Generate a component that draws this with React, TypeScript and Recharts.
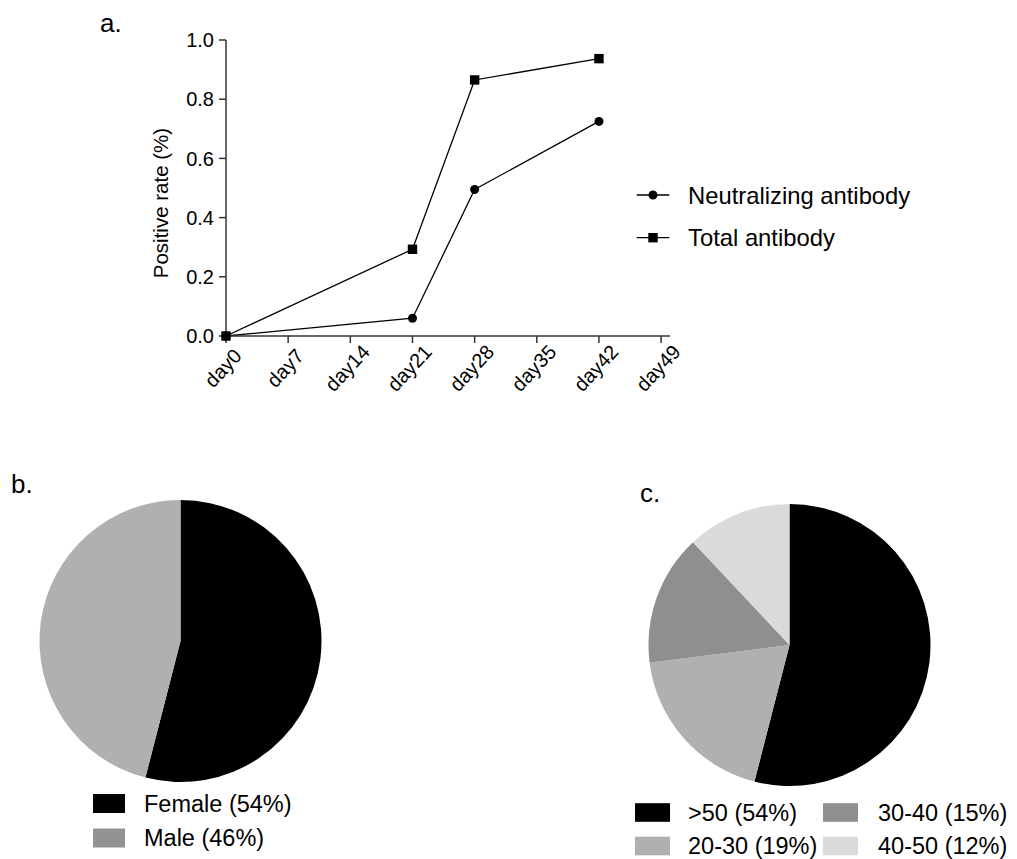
import React from 'react';
import { LineChart, Line, XAxis, YAxis, Legend, PieChart, Pie, Cell } from 'recharts';

const FONT = '"Liberation Sans", Arial, Helvetica, sans-serif';

// Panel a: positive rate over time
const days = [0, 21, 28, 42];
const neutralizing = [0, 0.06, 0.495, 0.725];
const totalAb = [0, 0.293, 0.865, 0.937];
const xTicks = [0, 7, 14, 21, 28, 35, 42, 49];
const yTicks = [0, 0.2, 0.4, 0.6, 0.8, 1.0];
const seriesNames = ['Neutralizing antibody', 'Total antibody'];

// Panel b: gender
const genderLabels = ['Female (54%)', 'Male (46%)'];
const genderValues = [54, 46];
const genderSliceColors = ['#000000', '#b0b0b0'];
const genderSwatchColors = ['#000000', '#939393'];

// Panel c: age groups
const ageLabels = ['>50 (54%)', '20-30 (19%)', '30-40 (15%)', '40-50 (12%)'];
const ageValues = [54, 19, 15, 12];
const ageColors = ['#000000', '#b0b0b0', '#8f8f8f', '#dadada'];

const lineData = days.map((d, i) => ({ day: d, neutralizing: neutralizing[i], total: totalAb[i] }));
const genderData = genderLabels.map((n, i) => ({ name: n, value: genderValues[i] }));
const ageData = ageLabels.map((n, i) => ({ name: n, value: ageValues[i] }));

const AXIS = '#333333';

const SquareDot = (props: any) => {
  const { cx, cy, index } = props;
  if (cx == null || cy == null) return <g key={`s${index}`} />;
  return <rect key={`s${index}`} x={cx - 4.7} y={cy - 4.7} width={9.4} height={9.4} fill="#000" />;
};

const XTick = (props: any) => {
  const { x, payload } = props;
  return (
    <g transform={`translate(${x - 3},${368}) rotate(-47)`}>
      <text x={0} y={0} textAnchor="middle" dominantBaseline="central" fontSize={20} fill="#000" fontFamily={FONT}>
        {`day${payload.value}`}
      </text>
    </g>
  );
};

const LineLegend = () => (
  <svg width={320} height={80} style={{ display: 'block' }}>
    {seriesNames.map((n, i) => {
      const y = 20 + i * 42.7;
      return (
        <g key={n}>
          <line x1={6.7} x2={39.3} y1={y} y2={y} stroke="#000" strokeWidth={1.3} />
          {i === 0 ? (
            <circle cx={23} cy={y} r={4.5} fill="#000" />
          ) : (
            <rect x={23 - 4.7} y={y - 4.7} width={9.4} height={9.4} fill="#000" />
          )}
          <text x={58} y={y} dominantBaseline="central" fontSize={23.8} fill="#000" fontFamily={FONT}>{n}</text>
        </g>
      );
    })}
  </svg>
);

const GenderLegend = () => (
  <svg width={260} height={70} style={{ display: 'block' }}>
    {genderLabels.map((n, i) => {
      const cy = 13.5 + i * 34.5;
      return (
        <g key={n}>
          <rect x={8} y={cy - 9.5} width={32} height={19} fill={genderSwatchColors[i]} />
          <text x={59} y={cy} dominantBaseline="central" fontSize={23.5} fill="#000" fontFamily={FONT}>{n}</text>
        </g>
      );
    })}
  </svg>
);

const AgeLegend = () => (
  <svg width={397} height={64} style={{ display: 'block' }}>
    {ageLabels.map((n, i) => {
      const col = Math.floor(i / 2);
      const row = i % 2;
      const cy = 17.5 + row * 33.5;
      const sx = col === 0 ? 15 : 203;
      const tx = col === 0 ? 68 : 258;
      return (
        <g key={n}>
          <rect x={sx} y={cy - 9.3} width={35} height={18.6} fill={ageColors[i]} />
          <text x={tx} y={cy} dominantBaseline="central" fontSize={23.5} fill="#000" fontFamily={FONT}>{n}</text>
        </g>
      );
    })}
  </svg>
);

const YLabel = (props: any) => {
  const vb = props.viewBox || { x: 156, y: 40, width: 70, height: 296 };
  const cx = vb.x + 4;
  const cy = vb.y + vb.height / 2 + 15;
  return (
    <text x={cx} y={cy} transform={`rotate(-90, ${cx}, ${cy})`} textAnchor="middle" dominantBaseline="central" fontSize={20.5} fill="#000" fontFamily={FONT}>
      Positive rate (%)
    </text>
  );
};

const panelLabel = (text: string, left: number, top: number) => (
  <div style={{ position: 'absolute', left, top, fontSize: 26, lineHeight: '26px', fontFamily: FONT, color: '#000' }}>{text}</div>
);

export default function App() {
  return (
    <div style={{ position: 'absolute', left: 0, top: 0, width: 1017, height: 859, background: '#fff', overflow: 'hidden', fontFamily: FONT }}>
      {panelLabel('a.', 100, 10)}
      {panelLabel('b.', 11, 471)}
      {panelLabel('c.', 640, 480)}

      <div style={{ position: 'absolute', left: 0, top: 0 }}>
        <LineChart width={1017} height={440} data={lineData} margin={{ top: 40, right: 347, left: 156, bottom: 44 }}>
          <XAxis
            dataKey="day"
            type="number"
            domain={[0, 50]}
            ticks={xTicks}
            interval={0}
            height={60}
            tickSize={7}
            axisLine={{ stroke: AXIS, strokeWidth: 1.5 }}
            tickLine={{ stroke: AXIS, strokeWidth: 1.5 }}
            tick={<XTick />}
          />
          <YAxis
            type="number"
            domain={[0, 1]}
            ticks={yTicks}
            interval={0}
            width={70}
            tickSize={7}
            tickMargin={5}
            axisLine={{ stroke: AXIS, strokeWidth: 1.5 }}
            tickLine={{ stroke: AXIS, strokeWidth: 1.5 }}
            tick={{ fontSize: 20, fill: '#000', fontFamily: FONT }}
            tickFormatter={(v: number) => v.toFixed(1)}
            label={<YLabel />}
          />
          <Line
            type="linear"
            dataKey="neutralizing"
            stroke="#000"
            strokeWidth={1.3}
            dot={{ r: 4.5, fill: '#000', stroke: '#000', strokeWidth: 0 }}
            activeDot={false}
            isAnimationActive={false}
          />
          <Line
            type="linear"
            dataKey="total"
            stroke="#000"
            strokeWidth={1.3}
            dot={<SquareDot />}
            activeDot={false}
            isAnimationActive={false}
          />
          <Legend
            layout="vertical"
            align="center"
            verticalAlign="middle"
            content={<LineLegend />}
            wrapperStyle={{ position: 'absolute', left: 630, top: 175, width: 320, height: 80 }}
          />
        </LineChart>
      </div>

      <div style={{ position: 'absolute', left: 0, top: 460 }}>
        <PieChart width={400} height={399} margin={{ top: 0, right: 0, bottom: 0, left: 0 }}>
          <Pie
            data={genderData}
            dataKey="value"
            nameKey="name"
            cx={180.5}
            cy={181}
            outerRadius={141}
            innerRadius={0}
            startAngle={90}
            endAngle={-270}
            stroke="none"
            isAnimationActive={false}
          >
            {genderData.map((d, i) => (
              <Cell key={d.name} fill={genderSliceColors[i]} />
            ))}
          </Pie>
          <Legend
            layout="vertical"
            align="center"
            verticalAlign="middle"
            content={<GenderLegend />}
            wrapperStyle={{ position: 'absolute', left: 85, top: 330, width: 260, height: 70 }}
          />
        </PieChart>
      </div>

      <div style={{ position: 'absolute', left: 600, top: 460 }}>
        <PieChart width={417} height={399} margin={{ top: 0, right: 0, bottom: 0, left: 0 }}>
          <Pie
            data={ageData}
            dataKey="value"
            nameKey="name"
            cx={189.5}
            cy={185}
            outerRadius={141}
            innerRadius={0}
            startAngle={90}
            endAngle={-270}
            stroke="none"
            isAnimationActive={false}
          >
            {ageData.map((d, i) => (
              <Cell key={d.name} fill={ageColors[i]} />
            ))}
          </Pie>
          <Legend
            layout="vertical"
            align="center"
            verticalAlign="middle"
            content={<AgeLegend />}
            wrapperStyle={{ position: 'absolute', left: 20, top: 335, width: 397, height: 64 }}
          />
        </PieChart>
      </div>
    </div>
  );
}
